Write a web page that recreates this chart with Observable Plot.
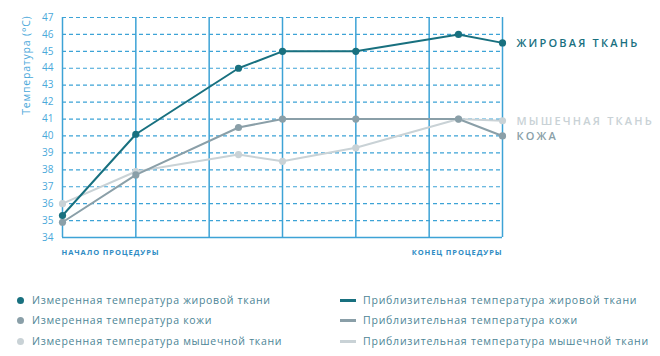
<!DOCTYPE html>
<html><head><meta charset="utf-8">
<script src="https://cdn.jsdelivr.net/npm/d3@7"></script>
<script src="https://cdn.jsdelivr.net/npm/@observablehq/plot@0.6"></script>
<style>
body{margin:0;background:#fff;font-family:"Open Sans",sans-serif;}
#wrap{position:relative;width:660px;height:356px;}
#legend{position:absolute;left:0;top:290px;width:660px;font-size:10.5px;color:#4d8596;}
.item{position:absolute;white-space:nowrap;line-height:12px;}
.m{letter-spacing:0.7px;}
.a{letter-spacing:0.78px;}
.dot{position:absolute;width:7px;height:7px;border-radius:50%;}
.ln{position:absolute;width:16px;height:3px;}
</style></head>
<body><div id="wrap"><div id="chart"></div><div id="legend"></div></div>
<script>
const xPos = [0, 1, 2.4, 3, 4, 5.4, 6];
const fatValues = [35.3, 40.1, 44.0, 45.0, 45.0, 46.0, 45.5];
const skinValues = [34.9, 37.7, 40.5, 41.0, 41.0, 41.0, 40.0];
const muscleValues = [36.0, 37.9, 38.9, 38.5, 39.3, 41.0, 40.9];
const seriesNames = ["ЖИРОВАЯ ТКАНЬ", "МЫШЕЧНАЯ ТКАНЬ", "КОЖА"];
const seriesColors = ["#18707f", "#c9d2d6", "#8a9fa8"];
const yTicks = d3.range(34, 48);
const xGrid = [0, 1, 2, 3, 4, 5, 6];
const xLabelStart = [{x: 0, label: "НАЧАЛО ПРОЦЕДУРЫ"}];
const xLabelEnd = [{x: 6, label: "КОНЕЦ ПРОЦЕДУРЫ"}];
const yTitle = "Температура (°C)";
const legendMeasured = ["Измеренная температура жировой ткани", "Измеренная температура кожи", "Измеренная температура мышечной ткани"];
const legendApprox = ["Приблизительная температура жировой ткани", "Приблизительная температура кожи", "Приблизительная температура мышечной ткани"];
const legendColors = ["#18707f", "#8a9fa8", "#c9d2d6"];

const valuesBySeries = [fatValues, muscleValues, skinValues];
const data = [];
valuesBySeries.forEach((vals, i) => vals.forEach((v, j) => data.push({series: seriesNames[i], x: xPos[j], y: v})));
const drawOrder = [seriesNames[1], seriesNames[2], seriesNames[0]];
const lastPts = seriesNames.map((s, i) => ({series: s, x: xPos[xPos.length - 1], y: valuesBySeries[i][valuesBySeries[i].length - 1]}));
const grid = "#3da3d6";

const plot = Plot.plot({
  width: 660, height: 270,
  marginLeft: 62, marginRight: 158, marginTop: 17, marginBottom: 33,
  style: {fontFamily: "Open Sans, sans-serif", background: "white"},
  x: {domain: [0, 6], axis: null},
  y: {domain: [34, 47], axis: null},
  color: {domain: seriesNames, range: seriesColors},
  marks: [
    Plot.ruleY(yTicks.filter(d => d > 34), {y: d => d, stroke: grid, strokeWidth: 1.2, strokeDasharray: "4,3"}),
    Plot.ruleY([34], {stroke: grid, strokeWidth: 1.5}),
    Plot.ruleX(xGrid, {x: d => d, stroke: grid, strokeWidth: 1.5}),
    Plot.axisY({ticks: yTicks, tickSize: 0, tickPadding: 9, fontSize: 10, color: "#4aa8da", label: null}),
    Plot.text([yTitle], {frameAnchor: "top-left", text: d => d, rotate: -90, textAnchor: "end", dx: -40, dy: -2, fontSize: 10.5, fill: "#4aa8da"}),
    Plot.text(xLabelStart, {x: "x", frameAnchor: "bottom", text: "label", textAnchor: "start", dy: 17, fontSize: 7.5, fontWeight: 700, fill: "#2f8cc4", dx: -1}),
    Plot.text(xLabelEnd, {x: "x", frameAnchor: "bottom", text: "label", textAnchor: "end", dy: 17, fontSize: 7.5, fontWeight: 700, fill: "#2f8cc4"}),
    ...drawOrder.map(s => Plot.line(data.filter(d => d.series === s), {x: "x", y: "y", stroke: "series", strokeWidth: 2})),
    ...drawOrder.map(s => Plot.dot(data.filter(d => d.series === s), {x: "x", y: "y", fill: "series", r: 3.6})),
    Plot.text(lastPts, {x: "x", y: "y", text: "series", fill: "series", textAnchor: "start", dx: 14, dy: 1, fontSize: 11, fontWeight: 600})
  ]
});
plot.querySelectorAll("text").forEach(t => {
  const s = t.textContent;
  if (s === yTitle) t.style.letterSpacing = "0.8px";
  else if (s === xLabelStart[0].label || s === xLabelEnd[0].label) t.style.letterSpacing = "0.9px";
  else if (seriesNames.includes(s)) t.style.letterSpacing = "2.2px";
});
document.getElementById("chart").appendChild(plot);

const leg = document.getElementById("legend");
const rowY = [10, 30, 51];
legendMeasured.forEach((t, i) => {
  const d = document.createElement("div"); d.className = "dot";
  d.style.left = "16.5px"; d.style.top = (rowY[i] - 3.5) + "px"; d.style.background = legendColors[i];
  leg.appendChild(d);
  const s = document.createElement("div"); s.className = "item m";
  s.style.left = "32px"; s.style.top = (rowY[i] - 6.5) + "px"; s.textContent = t;
  leg.appendChild(s);
});
legendApprox.forEach((t, i) => {
  const d = document.createElement("div"); d.className = "ln";
  d.style.left = "340px"; d.style.top = (rowY[i] - 1.5) + "px"; d.style.background = legendColors[i];
  leg.appendChild(d);
  const s = document.createElement("div"); s.className = "item a";
  s.style.left = "363px"; s.style.top = (rowY[i] - 6.5) + "px"; s.textContent = t;
  leg.appendChild(s);
});
</script></body></html>
